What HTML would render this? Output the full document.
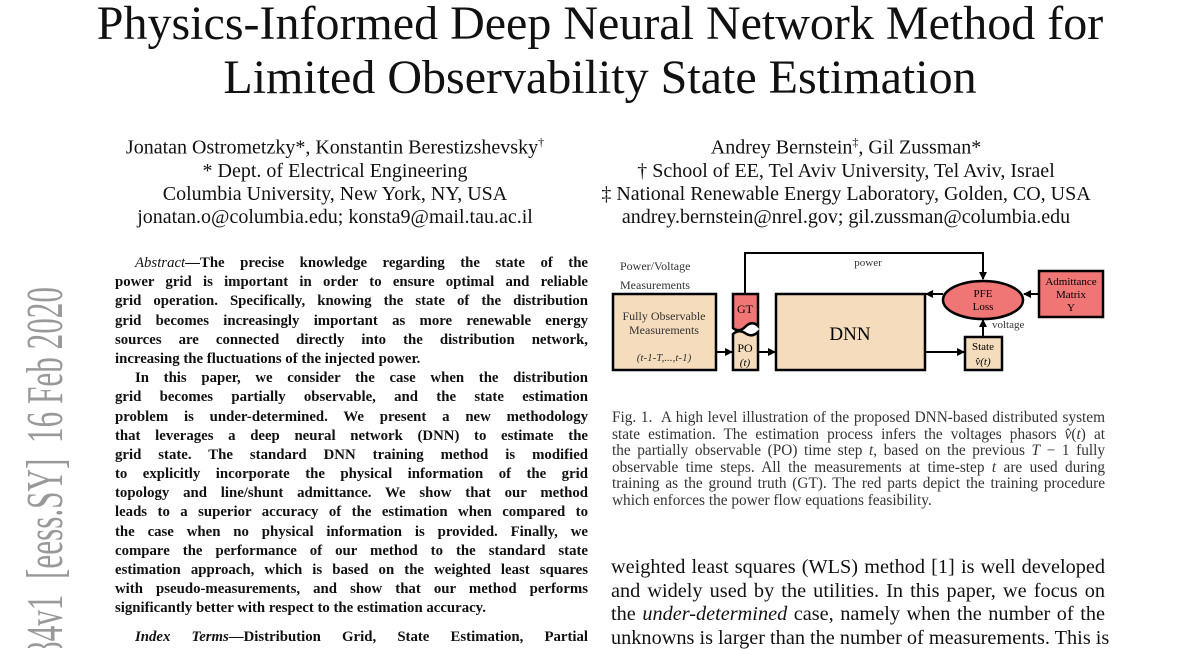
<!DOCTYPE html>
<html><head><meta charset="utf-8"><style>
body{margin:0;width:1200px;height:648px;overflow:hidden;background:#fff;position:relative;font-family:"Liberation Serif",serif;color:#111}
.a{position:absolute;white-space:nowrap}
.t{position:absolute;left:0;width:1200px;text-align:center;font-size:48px;line-height:1}
.c{position:absolute;text-align:center;font-size:20px;white-space:nowrap}
.ab div{height:19.2px;font-size:14.8px;font-weight:bold;line-height:19.2px;text-align:justify;text-align-last:justify;white-space:nowrap}
.ab div.l{text-align-last:left}
.ab div.i{padding-left:20px}
.cap div{height:16.6px;font-size:15.3px;line-height:16.6px;text-align:justify;text-align-last:justify;color:#333;white-space:nowrap}
.cap div.l{text-align-last:left}
.bd div{height:23.5px;font-size:20.3px;line-height:23.5px;text-align:justify;text-align-last:justify;white-space:nowrap}
</style></head><body>
<div class="t" style="top:0px">Physics-Informed Deep Neural Network Method for</div>
<div class="t" style="top:54px">Limited Observability State Estimation</div>

<div class="c" style="left:85px;width:500px;top:131px;line-height:23px">Jonatan Ostrometzky*, Konstantin Berestizshevsky<sup style="font-size:12px">†</sup><br>* Dept. of Electrical Engineering<br>Columbia University, New York, NY, USA<br>jonatan.o@columbia.edu; konsta9@mail.tau.ac.il</div>
<div class="c" style="left:580px;width:532px;top:131px;line-height:23px">Andrey Bernstein<sup style="font-size:12px">‡</sup>, Gil Zussman*<br>† School of EE, Tel Aviv University, Tel Aviv, Israel<br>‡ National Renewable Energy Laboratory, Golden, CO, USA<br>andrey.bernstein@nrel.gov; gil.zussman@columbia.edu</div>

<svg class="a" style="left:0;top:0;overflow:hidden" width="120" height="648">
<text transform="translate(62,287) rotate(-90) scale(0.6,1)" text-anchor="end" font-family="Liberation Serif, serif" font-size="52" fill="#999">arXiv:2002.06084v1&#160;&#160;[eess.SY]&#160;&#160;16 Feb 2020</text>
</svg>

<div class="ab" style="position:absolute;left:115px;top:254px;width:473px">
<div class="i"><i style="font-weight:normal">Abstract</i>—The precise knowledge regarding the state of the</div>
<div>power grid is important in order to ensure optimal and reliable</div>
<div>grid operation. Specifically, knowing the state of the distribution</div>
<div>grid becomes increasingly important as more renewable energy</div>
<div>sources are connected directly into the distribution network,</div>
<div class="l">increasing the fluctuations of the injected power.</div>
<div class="i">In this paper, we consider the case when the distribution</div>
<div>grid becomes partially observable, and the state estimation</div>
<div>problem is under-determined. We present a new methodology</div>
<div>that leverages a deep neural network (DNN) to estimate the</div>
<div>grid state. The standard DNN training method is modified</div>
<div>to explicitly incorporate the physical information of the grid</div>
<div>topology and line/shunt admittance. We show that our method</div>
<div>leads to a superior accuracy of the estimation when compared to</div>
<div>the case when no physical information is provided. Finally, we</div>
<div>compare the performance of our method to the standard state</div>
<div>estimation approach, which is based on the weighted least squares</div>
<div>with pseudo-measurements, and show that our method performs</div>
<div class="l">significantly better with respect to the estimation accuracy.</div>
<div class="i" style="margin-top:9px"><i>Index Terms</i>—Distribution Grid, State Estimation, Partial</div>
</div>

<svg class="a" style="left:0;top:0" width="1200" height="648" font-family="Liberation Serif, serif">
<defs><marker id="ar" markerWidth="8" markerHeight="8" refX="7" refY="4" orient="auto" markerUnits="userSpaceOnUse"><path d="M0,0 L8,4 L0,8 z" fill="#000"/></marker></defs>
<text x="620" y="270" font-size="12" fill="#333">Power/Voltage</text>
<text x="620" y="289" font-size="12" fill="#333">Measurements</text>
<rect x="613" y="294" width="103" height="76" fill="#f5dcbc" stroke="#000" stroke-width="2.5"/>
<text x="664" y="320" font-size="12" text-anchor="middle" fill="#333">Fully Observable</text>
<text x="664" y="334" font-size="12" text-anchor="middle" fill="#333">Measurements</text>
<text x="664" y="361" font-size="11" text-anchor="middle" font-style="italic" fill="#333">(t-1-T,...,t-1)</text>
<path d="M733,294 H758 V326 Q752,320 745,327 Q739,333 733,328 Z" fill="#f07575" stroke="#000" stroke-width="2.5"/>
<text x="745" y="313" font-size="12" text-anchor="middle">GT</text>
<path d="M733,334 Q739,329 745,333 Q752,338 758,332 V370 H733 Z" fill="#f5dcbc" stroke="#000" stroke-width="2.5"/>
<text x="745" y="352" font-size="12" text-anchor="middle">PO</text>
<text x="745" y="366" font-size="11" text-anchor="middle" font-style="italic">(t)</text>
<rect x="776" y="294" width="149" height="76" fill="#f5dcbc" stroke="#000" stroke-width="2.5"/>
<text x="850" y="340" font-size="19" text-anchor="middle">DNN</text>
<rect x="965" y="337" width="37" height="33" fill="#f5dcbc" stroke="#000" stroke-width="2.5"/>
<text x="983" y="350" font-size="11" text-anchor="middle">State</text>
<text x="983" y="365" font-size="11" text-anchor="middle" font-style="italic">v̂(t)</text>
<ellipse cx="983" cy="300" rx="40" ry="19" fill="#f07575" stroke="#000" stroke-width="2.5"/>
<text x="983" y="297" font-size="11" text-anchor="middle">PFE</text>
<text x="983" y="310" font-size="11" text-anchor="middle">Loss</text>
<rect x="1039" y="271" width="64" height="46" fill="#f07575" stroke="#000" stroke-width="2.5"/>
<text x="1071" y="285" font-size="11" text-anchor="middle">Admittance</text>
<text x="1071" y="298" font-size="11" text-anchor="middle">Matrix</text>
<text x="1071" y="311" font-size="11" text-anchor="middle">Y</text>
<path d="M745,293 V253 H983 V279" fill="none" stroke="#000" stroke-width="2" marker-end="url(#ar)"/>
<text x="868" y="266" font-size="11" text-anchor="middle" fill="#333">power</text>
<line x1="716" y1="352" x2="732" y2="352" stroke="#000" stroke-width="2" marker-end="url(#ar)"/>
<line x1="758" y1="352" x2="775" y2="352" stroke="#000" stroke-width="2" marker-end="url(#ar)"/>
<line x1="925" y1="352" x2="964" y2="352" stroke="#000" stroke-width="2" marker-end="url(#ar)"/>
<line x1="983" y1="337" x2="983" y2="320" stroke="#000" stroke-width="2" marker-end="url(#ar)"/>
<text x="992" y="328" font-size="11" fill="#333">voltage</text>
<line x1="943" y1="294" x2="926" y2="294" stroke="#000" stroke-width="2" marker-end="url(#ar)"/>
<line x1="1039" y1="294" x2="1024" y2="294" stroke="#000" stroke-width="2" marker-end="url(#ar)"/>
</svg>

<div class="cap" style="position:absolute;left:612px;top:410px;width:493px">
<div>Fig. 1.&nbsp; A high level illustration of the proposed DNN-based distributed system</div>
<div>state estimation. The estimation process infers the voltages phasors <i>v̂</i>(<i>t</i>) at</div>
<div>the partially observable (PO) time step <i>t</i>, based on the previous <i>T</i> − 1 fully</div>
<div>observable time steps. All the measurements at time-step <i>t</i> are used during</div>
<div>training as the ground truth (GT). The red parts depict the training procedure</div>
<div class="l">which enforces the power flow equations feasibility.</div>
</div>

<div class="bd" style="position:absolute;left:611px;top:556px;width:494px">
<div>weighted least squares (WLS) method [1] is well developed</div>
<div>and widely used by the utilities. In this paper, we focus on</div>
<div>the <i>under-determined</i> case, namely when the number of the</div>
<div>unknowns is larger than the number of measurements. This is</div>
</div>
</body></html>
